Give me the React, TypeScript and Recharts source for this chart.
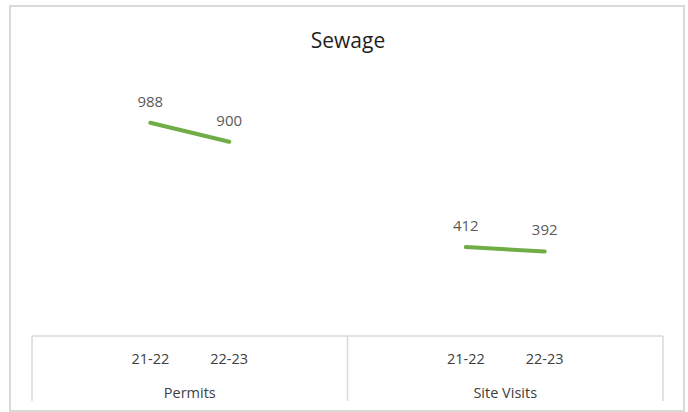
import { LineChart, Line, XAxis, YAxis, LabelList } from 'recharts';

// leaf categories, padded with empty slots the way the spreadsheet spaces them
const categories = ['', '21-22', '22-23', '', '', '21-22', '22-23', ''];
const groups = ['Permits', 'Permits', 'Permits', 'Permits', 'Site Visits', 'Site Visits', 'Site Visits', 'Site Visits'];
const values = [null, 988, 900, null, null, 412, 392, null];

const data = categories.map((c, i) => ({ key: `c${i}`, label: c, group: groups[i], value: values[i] }));

const W = 688;
const H = 412;
const margin = { top: 77, right: 25, bottom: 10, left: 32 };
const plotW = W - margin.left - margin.right;
const bandW = plotW / categories.length;
const perGroup = 4;
const tableDepth = 65;
const font = '"Open Sans", sans-serif';
const grid = '#d9d9d9';

// draws the two-level category table: leaf labels, group labels and dividers
const TableTick = (props: any) => {
  const { x, y, payload } = props;
  const i = payload.index;
  const leaf = categories[i] ?? '';
  const isGroupStart = i % perGroup === 0;
  const isLast = i === categories.length - 1;
  const isGroupMid = i % perGroup === perGroup / 2 - 1;
  return (
    <g>
      {isGroupStart && (
        <line x1={x - bandW / 2} x2={x - bandW / 2} y1={y} y2={y + tableDepth} stroke={grid} strokeWidth={1.5} />
      )}
      {isLast && (
        <line x1={x + bandW / 2} x2={x + bandW / 2} y1={y} y2={y + tableDepth} stroke={grid} strokeWidth={1.5} />
      )}
      {leaf && (
        <text x={x} y={y + 28} textAnchor="middle" fill="#404040" fontSize={14.5} fontFamily={font}>
          {leaf}
        </text>
      )}
      {isGroupMid && (
        <text x={x + bandW / 2} y={y + 62} textAnchor="middle" fill="#404040" fontSize={14.5} fontFamily={font}>
          {groups[i]}
        </text>
      )}
    </g>
  );
};

export default function App() {
  return (
    <div style={{ position: 'absolute', left: 0, top: 0, width: W, height: H, background: '#fff' }}>
      <div
        style={{
          position: 'absolute',
          left: 9,
          top: 5,
          width: 676,
          height: 407,
          boxSizing: 'border-box',
          border: `2px solid ${grid}`,
        }}
      />
      <div
        style={{
          position: 'absolute',
          left: 0,
          top: 27,
          width: 696,
          textAlign: 'center',
          fontFamily: font,
          fontSize: 21,
          lineHeight: '26px',
          color: '#1f1f1f',
        }}
      >
        Sewage
      </div>
      <LineChart width={W} height={H} data={data} margin={margin} style={{ position: 'absolute', left: 0, top: 0 }}>
        <XAxis
          dataKey="key"
          scale="band"
          tickLine={false}
          tickSize={0}
          tickMargin={0}
          axisLine={{ stroke: grid, strokeWidth: 1.5 }}
          height={66}
          interval={0}
          tick={<TableTick />}
        />
        <YAxis hide domain={[0, 1200]} />
        <Line
          dataKey="value"
          stroke="#70ad47"
          strokeWidth={4}
          strokeLinecap="round"
          dot={false}
          connectNulls={false}
          isAnimationActive={false}
        >
          <LabelList dataKey="value" position="top" offset={16} fill="#595959" fontSize={15} fontFamily={font} />
        </Line>
      </LineChart>
    </div>
  );
}
